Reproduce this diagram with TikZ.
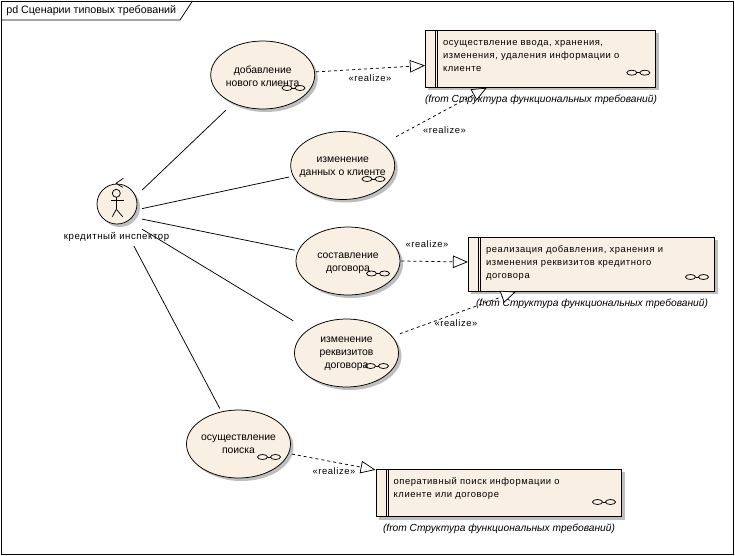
\documentclass[tikz,border=0pt]{standalone}
\usepackage{fontspec}
\setmainfont{Liberation Sans}
\newfontfamily\widefont[LetterSpace=6]{Liberation Sans}
\usepackage{xcolor}
\usetikzlibrary{fit,arrows.meta,shapes.geometric,shadows}
\definecolor{creamfill}{HTML}{F9F0E3}
\definecolor{shadowgray}{HTML}{BEBEBE}
\tikzset{
	ushadow/.style={drop shadow={shadow xshift=3pt,shadow yshift=-3pt,fill=shadowgray,opacity=1}},
	usecase/.style={draw,ellipse,fill=creamfill,ushadow,inner sep=-15pt,minimum width=104pt,minimum height=68pt,align=center,font=\fontsize{10.4}{13}\selectfont},
	reqbox/.style={draw,rectangle,fill=creamfill,ushadow,inner sep=0pt},
	reqtext/.style={anchor=west,align=left,inner sep=0pt,font=\fontsize{9.4}{13}\widefont},
	fromtext/.style={inner sep=0pt,font=\fontsize{10.2}{12}\itshape},
	realizetext/.style={inner sep=0pt,font=\fontsize{9.4}{12}\widefont},
	clipbox/.style={inner sep=1pt,outer sep=0pt},
	realize/.style={dash pattern=on 3pt off 3pt,-{Triangle[length=15pt,width=12.5pt,fill=white]}},
	compicon/.pic={
		\draw (-6.5,0) ellipse (5 and 2.5);
		\draw (6.5,0) ellipse (5 and 2.5);
		\draw (-1.5,0) -- (1.5,0);
	}
}
\begin{document}
\begin{tikzpicture}[x=1pt,y=-1pt,line width=0.75pt]
	\useasboundingbox (0,0) rectangle (735,555);
	\fill[white] (0,0) rectangle (735,555);
	% frame
	\draw (1,1) rectangle (733,554);
	\draw (1,20) -- (180,20) -- (192.5,1);
	\node (title) [anchor=west,inner sep=0pt,font=\fontsize{10.7}{12}\selectfont] at (6,11) {pd Сценарии типовых требований};
	% actor
	\node (actor) [draw,circle,fill=creamfill,ushadow,inner sep=0pt,minimum size=40pt] at (117,204) {};
	\node (actorbox) [clipbox,inner sep=0pt,minimum width=50pt,minimum height=64pt] at (117,214) {};
	\node (actorname) [realizetext,font=\fontsize{9.6}{12}\widefont] at (116.5,237) {кредитный инспектор};
	\draw (116.3,193.3) circle (4);
	\draw (116.3,197.3) -- (116.3,209.3);
	\draw (111,200.7) -- (124,200.7);
	\draw (112.3,216.7) -- (116.3,209.3) -- (122.7,216.7);
	\draw (123.3,178.3) -- (116,183.3) -- (122.7,187.3);
	% use cases
	\node (add) [usecase] at (262.7,75) {\rule{0pt}{9.5pt}добавление\\нового клиента};
	\node (data) [usecase] at (342.7,165.5) {\rule{0pt}{10pt}изменение\\данных о клиенте};
	\node (sign) [usecase] at (348,261) {\rule{0pt}{11pt}составление\\договора};
	\node (attr) [usecase] at (346.5,353) {\rule{0pt}{8pt}изменение\\реквизитов\\договора};
	\node (find) [usecase] at (238.5,444) {осуществление\\поиска};
	\node (addbox) [clipbox,fit=(add)] {};
	\node (databox) [clipbox,fit=(data)] {};
	\node (signbox) [clipbox,fit=(sign)] {};
	\node (attrbox) [clipbox,fit=(attr)] {};
	\node (findbox) [clipbox,fit=(find)] {};
	\pic at (293.5,88) {compicon};
	\pic at (373.5,179) {compicon};
	\pic at (378,273.5) {compicon};
	\pic at (377,366) {compicon};
	\pic at (269,457) {compicon};
	% requirements
	\node (reqa) [reqbox,minimum width=230.4pt,minimum height=57.3pt] at (540.5,58.7) {};
	\node (reqb) [reqbox,minimum width=246.4pt,minimum height=54pt] at (591.5,264.3) {};
	\node (reqc) [reqbox,minimum width=245.7pt,minimum height=47.4pt] at (498.8,493) {};
	\draw (435.3,30) -- (435.3,87.3);
	\draw (437.7,30) -- (437.7,87.3);
	\draw (478.3,237.3) -- (478.3,291.3);
	\draw (480.7,237.3) -- (480.7,291.3);
	\draw (386,469.3) -- (386,516.7);
	\draw (388.4,469.3) -- (388.4,516.7);
	\node (reqatext) [reqtext] at (442.7,56) {осуществление ввода, хранения,\\изменения, удаления информации о\\клиенте};
	\node (reqbtext) [reqtext] at (485.7,263) {реализация добавления, хранения и\\изменения реквизитов кредитного\\договора};
	\node (reqctext) [reqtext] at (393.3,488.5) {оперативный поиск информации о\\клиенте или договоре};
	\pic at (638.3,72.7) {compicon};
	\pic at (697,277) {compicon};
	\pic at (604,502) {compicon};
	\node (froma) [fromtext] at (541,100) {(from Структура функциональных требований)};
	\node (fromb) [fromtext] at (592,304) {(from Структура функциональных требований)};
	\node (fromc) [fromtext] at (499,529) {(from Структура функциональных требований)};
	% connectors
	\draw (actorbox) -- (addbox);
	\draw (actorbox) -- (databox);
	\draw (actorbox) -- (signbox);
	\draw (actorbox) -- (attrbox);
	\draw (actorbox) -- (findbox);
	\draw[realize] (addbox) -- (reqa);
	\draw[realize] (databox) -- (reqa);
	\draw[realize] (signbox.east) -- ([yshift=2.3pt]reqb.west);
	\draw[realize] (attrbox) -- (reqb);
	\draw[realize] (findbox) -- (reqc);
	\node (realizea) [realizetext] at (370,78) {«realize»};
	\node (realizeb) [realizetext] at (444.5,130) {«realize»};
	\node (realizec) [realizetext] at (427,244) {«realize»};
	\node (realized) [realizetext] at (456,323) {«realize»};
	\node (realizee) [realizetext] at (334,471) {«realize»};
\end{tikzpicture}
\end{document}
